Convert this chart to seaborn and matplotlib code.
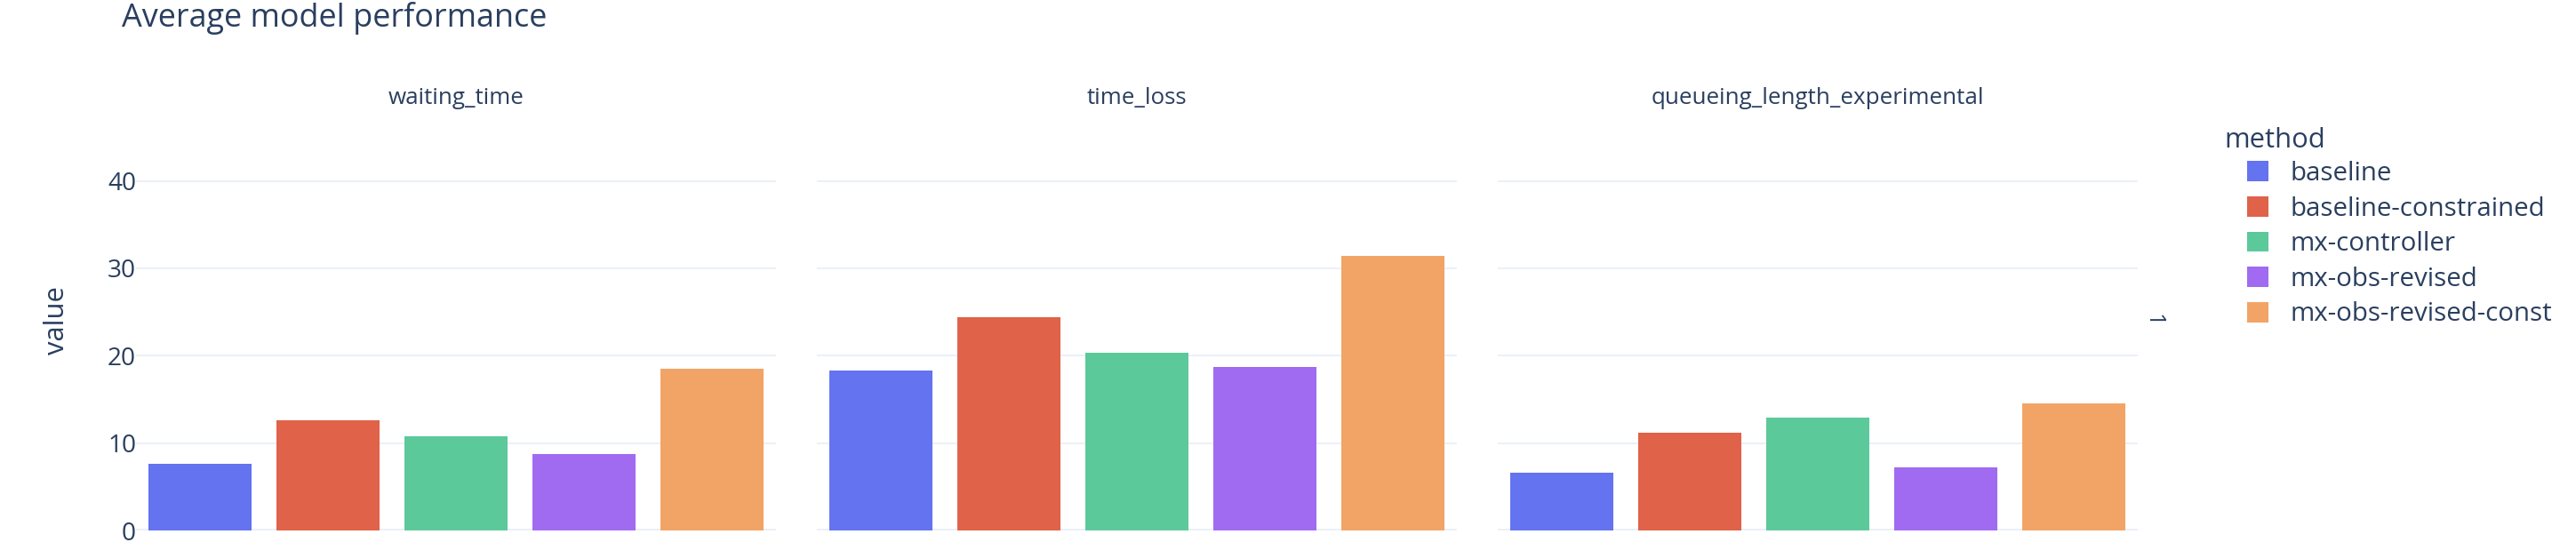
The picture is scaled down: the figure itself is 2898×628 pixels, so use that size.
"""
Average model performance - faceted bar chart (plotly-style look)
"""

import numpy as np
import pandas as pd
import seaborn as sns
import matplotlib.pyplot as plt
from matplotlib.patches import Patch

# --- Data ---
methods = ['baseline', 'baseline-constrained', 'mx-controller',
           'mx-obs-revised', 'mx-obs-revised-const']
metrics = ['waiting_time', 'time_loss', 'queueing_length_experimental']

waiting_time = [7.6, 12.65, 10.75, 8.75, 18.5]
time_loss = [18.35, 24.4, 20.35, 18.7, 31.4]
queueing_length_experimental = [6.6, 11.15, 12.95, 7.25, 14.55]

colors = ['#6473F0', '#DF6249', '#5CC99A', '#A06BF1', '#F2A466']

values = {'waiting_time': waiting_time,
          'time_loss': time_loss,
          'queueing_length_experimental': queueing_length_experimental}

df = pd.DataFrame([{'metric': m, 'method': meth, 'value': v}
                   for m in metrics for meth, v in zip(methods, values[m])])

# --- Style ---
sns.set_theme(style='white')
plt.rcParams['font.family'] = ['Open Sans', 'DejaVu Sans']
text_color = '#2a3f5f'
grid_color = '#EBF0F8'
px = 0.72  # points per pixel at dpi=100

W, H = 2898, 628
fig = plt.figure(figsize=(W / 100, H / 100), dpi=100)

panel_left = [153, 919, 1685]
panel_w, top, bottom = 720, 125, 597
palette = dict(zip(methods, colors))

axes = []
for i, metric in enumerate(metrics):
    ax = fig.add_axes([panel_left[i] / W, 1 - bottom / H, panel_w / W, (bottom - top) / H])
    sub = df[df['metric'] == metric]
    sns.barplot(data=sub, x='method', y='value', hue='method', order=methods,
                hue_order=methods, palette=palette, width=0.8, saturation=1,
                linewidth=0, legend=False, ax=ax)
    ax.set_ylim(0, 48)
    ax.set_yticks([0, 10, 20, 30, 40])
    ax.set_xlim(-0.5, 4.5)
    ax.yaxis.grid(True, color=grid_color, linewidth=2 * px, zorder=0)
    ax.axhline(0, color=grid_color, linewidth=4 * px, zorder=0.5)
    ax.set_axisbelow(True)
    for s in ax.spines.values():
        s.set_visible(False)
    ax.set_xticks([])
    ax.set_xlabel('')
    ax.tick_params(axis='y', length=0, pad=0, labelsize=28 * px, labelcolor=text_color)
    if i == 0:
        ax.set_ylabel('value', fontsize=31 * px, color=text_color)
        ax.yaxis.set_label_coords(-0.103, 0.5)
    else:
        ax.set_ylabel('')
        ax.set_yticklabels([])
    ax.text(0.5, 1.005, metric, transform=ax.transAxes, ha='center', va='bottom',
            fontsize=26 * px, color=text_color)
    axes.append(ax)

# facet row label
fig.text(2422 / W, 1 - 360 / H, '1', rotation=-90, ha='center', va='center',
         fontsize=26 * px, color=text_color)

# title
fig.text(137 / W, 1 - 30 / H, 'Average model performance', ha='left', va='baseline',
         fontsize=36 * px, color=text_color)

# legend
fig.text(2502 / W, 1 - 166 / H, 'method', ha='left', va='baseline',
         fontsize=31 * px, color=text_color)
handles = [Patch(facecolor=c, edgecolor='none') for c in colors]
leg = fig.legend(handles, methods, loc='upper left',
                 bbox_to_anchor=(2528 / W, 1 - 181 / H), frameon=False,
                 borderpad=0, borderaxespad=0, handlelength=0.8, handleheight=0.8,
                 handletextpad=0.85, labelspacing=0.36, fontsize=29.5 * px)
for t in leg.get_texts():
    t.set_color(text_color)

plt.savefig('out.png', dpi=100)
